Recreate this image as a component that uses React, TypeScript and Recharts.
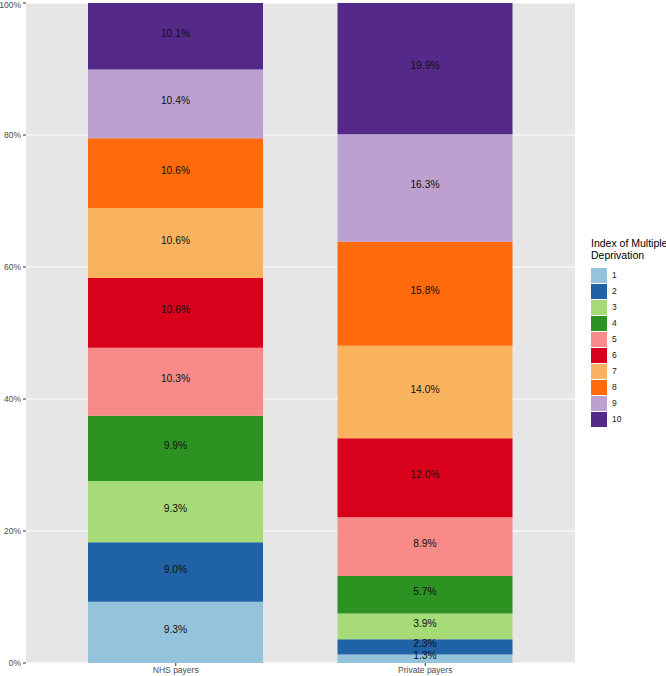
import React from 'react';
import { BarChart, Bar, XAxis, YAxis, CartesianGrid, LabelList } from 'recharts';

const categories = ['NHS payers', 'Private payers'];
const deciles = ['1', '2', '3', '4', '5', '6', '7', '8', '9', '10'];
const nhsValues = [9.3, 9.0, 9.3, 9.9, 10.3, 10.6, 10.6, 10.6, 10.4, 10.1];
const privateValues = [1.3, 2.3, 3.9, 5.7, 8.9, 12.0, 14.0, 15.8, 16.3, 19.9];
const colors = ['#96c3dc', '#1f62a5', '#a6db78', '#2c9322', '#f88a8a', '#d9001b', '#f9b35f', '#fe6a0c', '#bca0cf', '#55298a'];
const yTicks = [0, 0.2, 0.4, 0.6, 0.8, 1];
const minorTicks = [0.1, 0.3, 0.5, 0.7, 0.9];
const legendTitle = ['Index of Multiple', 'Deprivation'];

const seriesValues = [nhsValues, privateValues];
const data = categories.map((name, ci) => {
  const row: Record<string, any> = { name };
  deciles.forEach((d, i) => {
    row['d' + d] = seriesValues[ci][i];
  });
  return row;
});

const FONT = '"Liberation Sans", Arial, Helvetica, sans-serif';

const renderLabel = (props: any) => {
  const { x, y, width, height, value } = props;
  if (value == null) return null;
  return (
    <text
      x={Number(x) + Number(width) / 2}
      y={Number(y) + Number(height) / 2}
      dy={-3}
      textAnchor="middle"
      dominantBaseline="central"
      fontSize={10.3}
      fontFamily={FONT}
      fill="#111"
    >
      {`${Number(value).toFixed(1)}%`}
    </text>
  );
};

const minorGen = (props: any) => {
  const s = props?.yAxis?.scale;
  if (typeof s !== 'function') return [];
  return minorTicks.map((t) => s(t));
};

export default function App() {
  return (
    <div style={{ position: 'absolute', left: 0, top: 0, width: 666, height: 676, background: '#fff' }}>
      <BarChart
        width={666}
        height={676}
        data={data}
        stackOffset="expand"
        margin={{ top: 3, right: 91, bottom: 0, left: 0 }}
      >
        <CartesianGrid fill="#e6e6e6" stroke="#ffffff" strokeWidth={0.55} vertical={false} horizontalCoordinatesGenerator={minorGen} />
        <CartesianGrid stroke="#ffffff" strokeWidth={1.1} vertical={false} />
        <XAxis
          dataKey="name"
          type="category"
          padding={{ left: 25, right: 25 }}
          height={13}
          tickSize={3}
          tickMargin={1}
          axisLine={false}
          tickLine={{ stroke: '#333333' }}
          tick={{ fontSize: 8.5, fill: '#4d4d4d', fontFamily: FONT }}
        />
        <YAxis
          type="number"
          domain={[0, 1]}
          ticks={yTicks}
          width={26}
          tickSize={3}
          tickMargin={2}
          axisLine={false}
          tickLine={{ stroke: '#333333' }}
          tick={{ fontSize: 8.5, fill: '#4d4d4d', fontFamily: FONT }}
          tickFormatter={(v: number) => `${Math.round(v * 100)}%`}
        />
        {deciles.map((d, i) => (
          <Bar key={d} dataKey={'d' + d} stackId="a" fill={colors[i]} barSize={175} isAnimationActive={false}>
            <LabelList dataKey={'d' + d} content={renderLabel} />
          </Bar>
        ))}
      </BarChart>
      <div style={{ position: 'absolute', left: 591, top: 237, fontFamily: FONT, fontSize: 10.5, lineHeight: '12px', color: '#000', whiteSpace: 'nowrap' }}>
        {legendTitle.map((t) => (
          <div key={t}>{t}</div>
        ))}
      </div>
      <div style={{ position: 'absolute', left: 591, top: 267, fontFamily: FONT }}>
        {deciles.map((d, i) => (
          <div key={d} style={{ display: 'flex', alignItems: 'center', height: 16 }}>
            <div style={{ width: 16, height: 15, background: colors[i] }} />
            <span style={{ marginLeft: 5, fontSize: 8.5, color: '#1a1a1a' }}>{d}</span>
          </div>
        ))}
      </div>
    </div>
  );
}
